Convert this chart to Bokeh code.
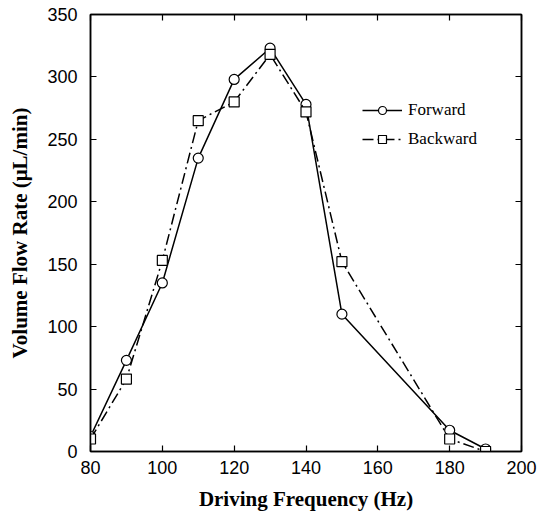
from bokeh.plotting import figure
from bokeh.models import LinearAxis, FixedTicker, Legend, CustomLabelingPolicy
from bokeh.embed import file_html
from bokeh.resources import INLINE

freq = [80, 90, 100, 110, 120, 130, 140, 150, 180, 190]
forward = [12, 73, 135, 235, 298, 323, 278, 110, 17, 2]
backward = [10, 58, 153, 265, 280, 318, 272, 152, 10, 0]
x_ticks = [80, 100, 120, 140, 160, 180, 200]
y_ticks = [0, 50, 100, 150, 200, 250, 300, 350]

p = figure(width=540, height=514, x_range=(80, 200), y_range=(0, 350),
           output_backend="svg", toolbar_location=None,
           min_border_left=90, min_border_right=19, min_border_top=14, min_border_bottom=63)
p.xgrid.visible = False
p.ygrid.visible = False
p.outline_line_color = "black"
p.outline_line_width = 1.5
p.background_fill_color = "white"
p.border_fill_color = "white"

xaxis = p.xaxis[0]
yaxis = p.yaxis[0]

hide_all = CustomLabelingPolicy(code="""
const ids = [...indices];
for (const i of ids) indices.unset(i);
""")

def style_axis(ax, ticks, show_labels=True):
    ax.ticker = FixedTicker(ticks=ticks)
    ax.major_tick_in = 6
    ax.major_tick_out = 0
    ax.minor_tick_in = 0
    ax.minor_tick_out = 0
    ax.axis_line_color = "black"
    ax.axis_line_width = 1.5
    ax.major_tick_line_color = "black"
    ax.major_tick_line_width = 1.2
    ax.major_label_text_font = "Liberation Sans"
    ax.major_label_text_color = "black"
    if show_labels:
        ax.major_label_text_font_size = "18px"
    else:
        ax.major_label_text_font_size = "1px"
        ax.major_label_standoff = 0
        ax.major_label_policy = hide_all

style_axis(xaxis, x_ticks)
style_axis(yaxis, y_ticks)
xaxis.major_label_standoff = 9
yaxis.major_label_standoff = 13

top = LinearAxis()
style_axis(top, x_ticks, show_labels=False)
p.add_layout(top, "above")
right = LinearAxis()
style_axis(right, y_ticks, show_labels=False)
p.add_layout(right, "right")

for ax, lab in ((xaxis, "Driving Frequency (Hz)"), (yaxis, "Volume Flow Rate (\u03bcL/min)")):
    ax.axis_label = lab
    ax.axis_label_text_font = "Liberation Serif"
    ax.axis_label_text_font_style = "bold"
    ax.axis_label_text_font_size = "21px"
    ax.axis_label_text_color = "black"
xaxis.axis_label_standoff = 10
yaxis.axis_label_standoff = 12

l1 = p.line(freq, forward, line_color="black", line_width=1.5)
s1 = p.scatter(freq, forward, marker="circle", size=10, line_color="black",
               fill_color="white", line_width=1.2)
l2 = p.line(freq, backward, line_color="black", line_width=1.5, line_dash="11 4 2 4")
s2 = p.scatter(freq, backward, marker="square", size=10, line_color="black",
               fill_color="white", line_width=1.2)

legend = Legend(items=[("Forward", [l1, s1]), ("Backward", [l2, s2])],
                location=(272, 302), padding=0, margin=0, spacing=9,
                glyph_width=40, glyph_height=20, label_standoff=6,
                label_text_font="Liberation Serif", label_text_font_size="17px",
                label_text_color="black", border_line_alpha=0,
                background_fill_alpha=0)
p.add_layout(legend, "center")

open("out.html", "w").write(file_html(p, INLINE))
